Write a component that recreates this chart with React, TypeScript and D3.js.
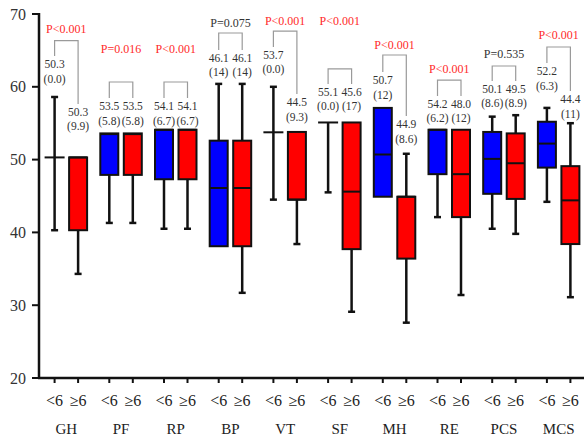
import React from "react";
import * as d3 from "d3";

const categories = ["GH", "PF", "RP", "BP", "VT", "SF", "MH", "RE", "PCS", "MCS"];
const subgroups = ["<6", "≥6"];
const yTicks = [20, 30, 40, 50, 60, 70];

// group "<6"
const lowMin = [40.3, 41.3, 40.5, 38.1, 44.5, 45.5, 44.9, 42.1, 40.5, 44.2];
const lowQ1 = [50.3, 47.9, 47.3, 38.1, 53.75, 55.1, 44.9, 48.0, 45.3, 48.9];
const lowMed = [50.3, 53.5, 54.1, 46.1, 53.75, 55.1, 50.7, 54.1, 50.1, 52.2];
const lowQ3 = [50.3, 53.6, 54.1, 52.6, 53.75, 55.1, 57.1, 54.1, 53.8, 55.2];
const lowMax = [58.6, 53.6, 54.1, 60.4, 60.0, 55.1, 57.1, 54.1, 55.9, 57.1];

// group "≥6"
const highMin = [34.3, 41.3, 40.5, 31.7, 38.4, 29.1, 27.6, 31.4, 39.8, 31.1];
const highQ1 = [40.3, 47.9, 47.3, 38.1, 44.5, 37.7, 36.4, 42.1, 44.6, 38.4];
const highMed = [50.3, 53.5, 54.1, 46.1, 44.5, 45.6, 44.9, 48.0, 49.5, 44.4];
const highQ3 = [50.3, 53.6, 54.1, 52.6, 53.8, 55.1, 44.9, 54.1, 53.6, 49.1];
const highMax = [50.3, 53.6, 54.1, 60.4, 53.8, 55.1, 50.8, 54.1, 56.1, 55.0];

// annotation texts
const lowLabel = ["50.3", "53.5", "54.1", "46.1", "53.7", "55.1", "50.7", "54.2", "50.1", "52.2"];
const lowIQR = ["(0.0)", "(5.8)", "(6.7)", "(14)", "(0.0)", "(0.0)", "(12)", "(6.2)", "(8.6)", "(6.3)"];
const highLabel = ["50.3", "53.5", "54.1", "46.1", "44.5", "45.6", "44.9", "48.0", "49.5", "44.4"];
const highIQR = ["(9.9)", "(5.8)", "(6.7)", "(14)", "(9.3)", "(17)", "(8.6)", "(12)", "(8.9)", "(11)"];
const pValues = ["P<0.001", "P=0.016", "P<0.001", "P=0.075", "P<0.001", "P<0.001", "P<0.001", "P<0.001", "P=0.535", "P<0.001"];
const significant = [true, true, true, false, true, true, true, true, false, true];

// annotation layout (in axis units)
const lowLabelAt = [63.13, 57.36, 57.36, 63.96, 64.37, 59.29, 60.93, 57.64, 59.7, 62.17];
const highLabelAt = [56.54, 57.36, 57.36, 63.96, 57.91, 59.29, 54.89, 57.64, 59.7, 58.32];
const bracketAt = [66.33, 60.66, 60.66, 67.39, 67.66, 62.45, 64.37, 60.93, 62.86, 65.47];
const pAt = [67.94, 65.19, 65.19, 68.76, 69.04, 69.04, 65.74, 62.45, 64.51, 67.12];

const W = 584;
const H = 436;
const FONT = "'Liberation Serif', 'Times New Roman', Times, serif";

export default function App() {
  const y = d3.scaleLinear().domain([20, 70]).range([378, 14]);
  const x = d3.scaleBand().domain(categories).range([39, 586]);
  const sub = d3.scalePoint().domain(subgroups).range([-11.75, 11.75]);
  const boxW = 18;
  const colors = ["#0000ff", "#ff0000"];

  const series = [
    { min: lowMin, q1: lowQ1, med: lowMed, q3: lowQ3, max: lowMax, label: lowLabel, iqr: lowIQR, at: lowLabelAt },
    { min: highMin, q1: highQ1, med: highMed, q3: highQ3, max: highMax, label: highLabel, iqr: highIQR, at: highLabelAt },
  ];

  const cx = (i: number, s: number) => (x(categories[i]) as number) + x.bandwidth() / 2 + (sub(subgroups[s]) as number);

  return (
    <svg width={W} height={H} style={{ position: "absolute", left: 0, top: 0, background: "#fff", fontFamily: FONT }}>
      {/* boxes */}
      {categories.map((c, i) => (
        <g key={c}>
          {series.map((s, si) => {
            const xc = cx(i, si);
            const collapsed = s.q3[i] - s.q1[i] < 0.05;
            return (
              <g key={si}>
                {s.max[i] > s.q3[i] && (
                  <>
                    <line x1={xc} x2={xc} y1={y(s.max[i])} y2={y(s.q3[i])} stroke="#111" strokeWidth={2.5} />
                    <line x1={xc - 3.5} x2={xc + 3.5} y1={y(s.max[i])} y2={y(s.max[i])} stroke="#111" strokeWidth={2.5} />
                  </>
                )}
                {s.min[i] < s.q1[i] && (
                  <>
                    <line x1={xc} x2={xc} y1={y(s.q1[i])} y2={y(s.min[i])} stroke="#111" strokeWidth={2.5} />
                    <line x1={xc - 3.5} x2={xc + 3.5} y1={y(s.min[i])} y2={y(s.min[i])} stroke="#111" strokeWidth={2.5} />
                  </>
                )}
                {!collapsed && (
                  <rect
                    x={xc - boxW / 2}
                    y={y(s.q3[i])}
                    width={boxW}
                    height={y(s.q1[i]) - y(s.q3[i])}
                    fill={colors[si]}
                    stroke="#111"
                    strokeWidth={2}
                  />
                )}
                <line
                  x1={xc - boxW / 2}
                  x2={xc + boxW / 2}
                  y1={y(s.med[i])}
                  y2={y(s.med[i])}
                  stroke="#111"
                  strokeWidth={2}
                  strokeLinecap={collapsed ? "square" : "butt"}
                />
              </g>
            );
          })}
        </g>
      ))}

      {/* annotations */}
      {categories.map((c, i) => {
        const xl = cx(i, 0);
        const xr = cx(i, 1);
        const xm = (x(c) as number) + x.bandwidth() / 2;
        const by = y(bracketAt[i]);
        return (
          <g key={"a" + c}>
            <path
              d={`M${xl},${y(lowLabelAt[i]) - 8}V${by}H${xr}V${y(highLabelAt[i]) - 8}`}
              fill="none"
              stroke="#9a9a9a"
              strokeWidth={1.2}
            />
            <text x={xm} y={y(pAt[i])} textAnchor="middle" dominantBaseline="central" fontSize={12} fill={significant[i] ? "#ff2a2a" : "#333"}>
              {pValues[i]}
            </text>
            {series.map((s, si) => {
              const xc = cx(i, si);
              const ly = y(s.at[i]);
              return (
                <g key={si} fontSize={11.5} fill="#333" textAnchor="middle">
                  <text x={xc} y={ly} dominantBaseline="central">{s.label[i]}</text>
                  <text x={xc} y={ly + 14.5} dominantBaseline="central">{s.iqr[i]}</text>
                </g>
              );
            })}
          </g>
        );
      })}

      {/* y axis */}
      <line x1={39} x2={39} y1={y(70) - 1} y2={y(20) + 1} stroke="#111" strokeWidth={2.5} />
      {yTicks.map((t) => (
        <g key={t}>
          <line x1={32} x2={39} y1={y(t)} y2={y(t)} stroke="#111" strokeWidth={2} />
          <text x={26} y={y(t)} textAnchor="end" dominantBaseline="central" fontSize={16} fill="#333">
            {t}
          </text>
        </g>
      ))}

      {/* x axis */}
      <line x1={38} x2={W} y1={y(20)} y2={y(20)} stroke="#111" strokeWidth={2.5} />
      {categories.map((c, i) => (
        <g key={"x" + c}>
          {subgroups.map((sg, si) => (
            <g key={sg}>
              <line x1={cx(i, si)} x2={cx(i, si)} y1={y(20)} y2={y(20) + 5} stroke="#111" strokeWidth={2} />
              <text x={cx(i, si)} y={400} textAnchor="middle" dominantBaseline="central" fontSize={16} fill="#222">
                {sg}
              </text>
            </g>
          ))}
          <text x={(x(c) as number) + x.bandwidth() / 2} y={429} textAnchor="middle" dominantBaseline="central" fontSize={15} fill="#222">
            {c}
          </text>
        </g>
      ))}
    </svg>
  );
}
